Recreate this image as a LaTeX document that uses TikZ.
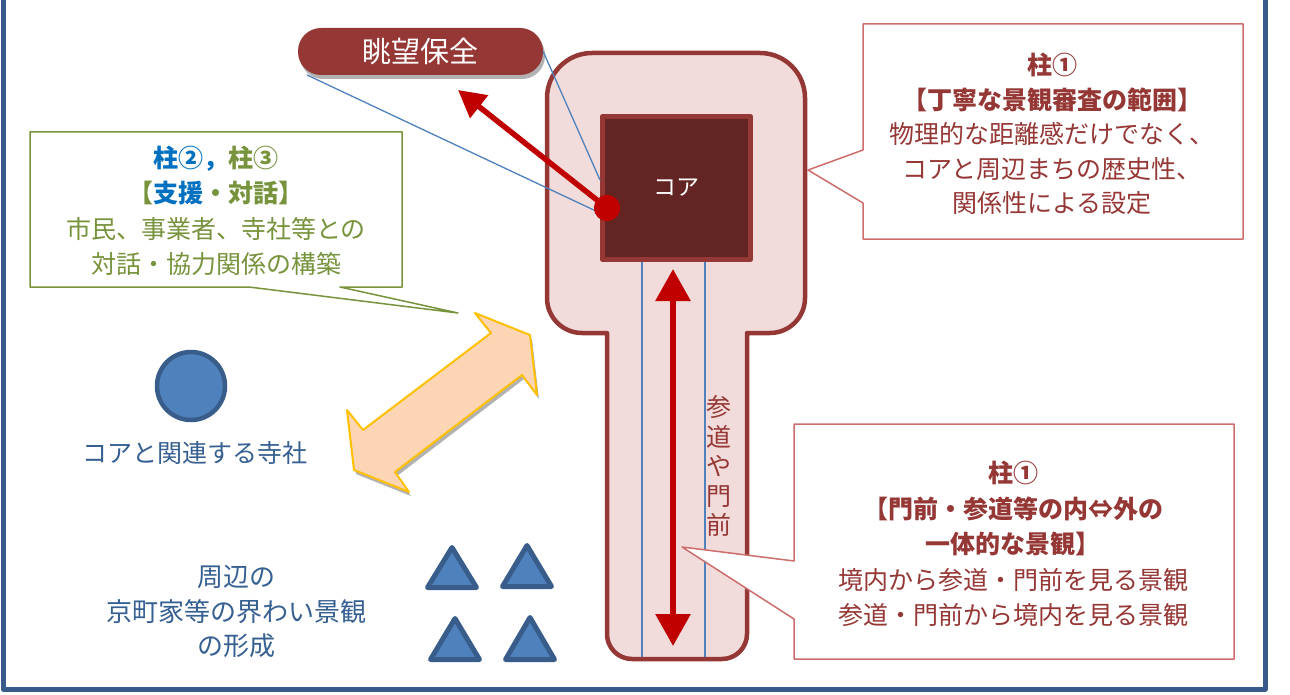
\documentclass[tikz,border=0pt]{standalone}
\usepackage{fontspec}
\setmainfont{Noto Sans CJK JP}
\usetikzlibrary{arrows.meta,shadows}
\definecolor{frameblue}{RGB}{58,90,140}
\definecolor{keyred}{RGB}{149,55,53}
\definecolor{keypink}{RGB}{242,220,219}
\definecolor{corefill}{RGB}{99,37,35}
\definecolor{arrred}{RGB}{192,0,0}
\definecolor{thinblue}{RGB}{79,129,189}
\definecolor{grn}{RGB}{119,147,60}
\definecolor{blu}{RGB}{0,112,192}
\definecolor{calloutred}{RGB}{205,110,108}
\definecolor{txtred}{RGB}{149,55,53}
\definecolor{grayblue}{RGB}{55,96,146}
\definecolor{shapeblue}{RGB}{79,129,189}
\definecolor{shapeedge}{RGB}{56,93,138}
\definecolor{peach}{RGB}{252,213,181}
\definecolor{gold}{RGB}{255,192,0}
\begin{document}
\begin{tikzpicture}[x=1pt,y=-1pt,line join=round,
  thinline/.style={draw=thinblue,line width=1.3pt},
  redbox/.style={draw=calloutred,fill=white,line width=1.5pt},
  grnbox/.style={draw=grn,fill=white,line width=1.5pt},
  txt/.style={align=center,inner sep=0pt},
  tri/.style={draw=shapeedge,fill=shapeblue,line width=5pt,line join=round},
  myshadow/.style={drop shadow={shadow xshift=2pt,shadow yshift=-4pt,opacity=0.3,fill=black}}]
\useasboundingbox (0,0) rectangle (1290,695);
\fill[white] (0,0) rectangle (1290,695);
% frame
\draw[frameblue,line width=5pt] (3,-10) -- (3,689) -- (1265,689) -- (1265,-10);
% keyhole
\draw[keyred,fill=keypink,line width=4.5pt]
 (547,98) arc[start angle=180,end angle=90,radius=45pt]
 -- (760,53) arc[start angle=90,end angle=0,radius=45pt]
 -- (805,298) arc[start angle=0,end angle=-90,radius=35pt]
 -- (747,333) -- (747,634) arc[start angle=0,end angle=-90,radius=25pt]
 -- (632,659) arc[start angle=270,end angle=180,radius=25pt]
 -- (607,333) -- (582,333) arc[start angle=270,end angle=180,radius=35pt]
 -- cycle;
% core
\node[draw=keyred,fill=corefill,line width=5pt,minimum width=148pt,minimum height=143pt,
  text=white,font=\fontsize{23}{26}\selectfont] (core) at (676.5,188) {コア};
\coordinate (la) at (642,657);
\coordinate (lb) at (705,657);
\draw[thinline] (core.south -| la) -- (la);
\draw[thinline] (core.south -| lb) -- (lb);
% pill
\node[fill=keyred,rounded corners=23pt,minimum width=245pt,minimum height=47pt,
  text=white,font=\fontsize{29}{32}\selectfont,myshadow] (pill) at (420.5,51.5) {眺望保全};
\coordinate (pa) at (307,75);
\coordinate (ca) at (598,212);
\coordinate (cb) at (600,180);
\draw[thinline] (pa) -- (ca);
\draw[thinline] (pill.east) -- (cb);
% red view arrow
\node[circle,fill=arrred,minimum size=26pt,inner sep=0pt] (dot) at (607,208) {};
\coordinate (vtip) at (458,90);
\draw[draw=arrred,line width=5.5pt,-{Triangle[length=27pt,width=28pt]}] (dot.center) -- (vtip);
\node[circle,fill=arrred,minimum size=26pt,inner sep=0pt] at (dot) {};
% up-down arrow
\coordinate (upt) at (673,269);
\coordinate (dnt) at (673,646);
\draw[draw=arrred,line width=6pt,{Triangle[length=32pt,width=34pt]}-{Triangle[length=32pt,width=34pt]}] (upt) -- (dnt);
% vertical text
\node[txt,text=txtred,font=\fontsize{25}{29.5}\selectfont] (sando) at (719,466) {参\\道\\や\\門\\前};
% callout upper right
\draw[redbox] (863,24) -- (1243,24) -- (1243,239) -- (863,239) -- (863,203) -- (808,170) -- (863,150) -- cycle;
\node[txt,text=txtred,font=\fontsize{25}{34.5}\selectfont] (c1) at (1052,134)
 {\textbf{柱①}\\\textbf{【丁寧な景観審査の範囲】}\\物理的な距離感だけでなく、\\コアと周辺まちの歴史性、\\関係性による設定};
% callout lower right
\draw[redbox] (794,424) -- (1234,424) -- (1234,659) -- (794,659) -- (794,619) -- (682,547) -- (794,561) -- cycle;
\node[txt,text=txtred,font=\fontsize{25}{35.5}\selectfont] (c2) at (1013,544)
 {\textbf{柱①}\\\textbf{【門前・参道等の内⇔外の}\\\textbf{一体的な景観】}\\境内から参道・門前を見る景観\\参道・門前から境内を見る景観};
% callout green
\draw[grnbox] (30,132) -- (402,132) -- (402,287) -- (340,287) -- (458,313) -- (249,287) -- (30,287) -- cycle;
\node[txt,text=grn,font=\fontsize{25}{35.5}\selectfont] (c3) at (216,211)
 {\textbf{{\color{blu}柱②，}柱③}\\\textbf{【{\color{blu}支援}・対話】}\\市民、事業者、寺社等との\\対話・協力関係の構築};
% orange double arrow
\draw[draw=gold,fill=peach,line width=2pt,myshadow]
 (530,335) -- (537,395) -- (522,375) -- (395,472) -- (409,492) -- (354,470)
 -- (347,410) -- (363,430) -- (491,333) -- (475,313) -- cycle;
% temple circle
\node[circle,draw=shapeedge,fill=shapeblue,line width=4.5pt,minimum size=68pt,inner sep=0pt] (temple) at (191,386) {};
\node[txt,text=grayblue,font=\fontsize{25}{30}\selectfont] (templetxt) at (195,453) {コアと関連する寺社};
% triangles
\draw[tri] (452,547.5) -- (476.5,587.5) -- (427.5,587.5) -- cycle;
\draw[tri] (527,545.5) -- (551.5,586.5) -- (502.5,586.5) -- cycle;
\draw[tri] (455,618.5) -- (479.5,659.5) -- (430.5,659.5) -- cycle;
\draw[tri] (530,617.5) -- (554.5,659.5) -- (505.5,659.5) -- cycle;
\node[txt,text=grayblue,font=\fontsize{26}{34.5}\selectfont] (machiya) at (236,612) {周辺の\\京町家等の界わい景観\\の形成};
\end{tikzpicture}
\end{document}
